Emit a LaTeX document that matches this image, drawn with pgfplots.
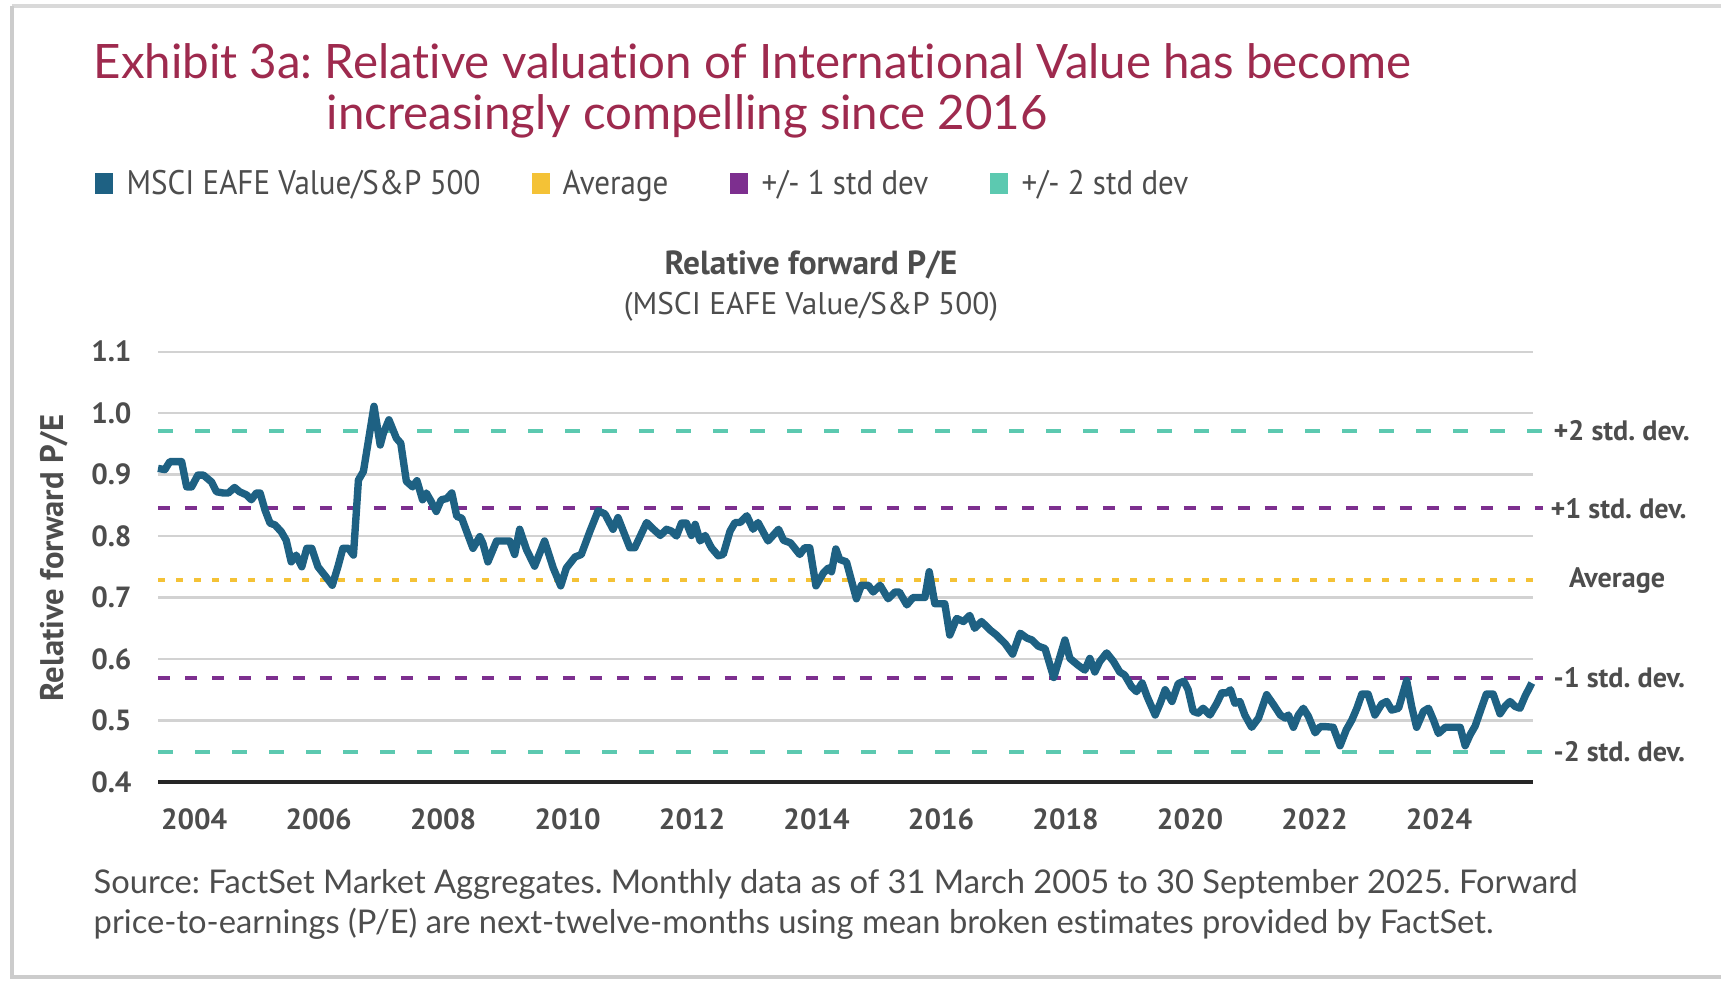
\documentclass[border=0pt]{standalone}
\usepackage{pgfplots}
\pgfplotsset{compat=1.18}
\usepackage{fontspec}
\setmainfont{Lato}
\newfontfamily\ptsans{PT Sans}
\newfontfamily\ptnarrow[FakeStretch=0.91]{PT Sans}
\newfontfamily\latofont[Ligatures=NoCommon]{Lato}

\definecolor{titlered}{HTML}{9E2A4E}
\definecolor{linecol}{HTML}{1E6183}
\definecolor{avgcol}{HTML}{F4C236}
\definecolor{sdonecol}{HTML}{7D2F8F}
\definecolor{sdtwocol}{HTML}{5CC9B0}
\definecolor{txtgray}{HTML}{4D4D4D}
\definecolor{gridgray}{HTML}{D2D2D2}

\begin{document}
\frenchspacing
\begin{tikzpicture}[x=1cm,y=1cm]
\useasboundingbox (0,0) rectangle (17.21,-9.80);
\fill[white] (0,0) rectangle (17.21,-9.80);
% screenshot frame
\draw[gray!30, line width=1pt] (0.12,-0.06) -- (17.21,-0.06);
\draw[gray!40, line width=1.2pt] (0.12,-0.06) -- (0.12,-9.77) -- (17.21,-9.77);

% title
\node[anchor=base west, inner sep=0, text=titlered, font=\latofont\fontsize{13.5}{16}\selectfont]
  at (0.93,-0.78) {Exhibit 3a: Relative valuation of International Value has become};
\node[anchor=base west, inner sep=0, text=titlered, font=\latofont\fontsize{13.5}{16}\selectfont]
  at (3.26,-1.29) {increasingly compelling since 2016};

% legend
\tikzset{legtxt/.style={anchor=base west, inner sep=0, text=txtgray, font=\ptnarrow\fontsize{9.7}{11}\selectfont}}
\fill[linecol]  (0.95,-1.73) rectangle (1.13,-1.94);
\node[legtxt] at (1.26,-1.94) {MSCI EAFE Value/S\&P 500};
\fill[avgcol]   (5.32,-1.73) rectangle (5.50,-1.94);
\node[legtxt] at (5.62,-1.94) {Average};
\fill[sdonecol] (7.30,-1.73) rectangle (7.48,-1.94);
\node[legtxt] at (7.61,-1.94) {+/- 1 std dev};
\fill[sdtwocol] (9.90,-1.73) rectangle (10.08,-1.94);
\node[legtxt] at (10.21,-1.94) {+/- 2 std dev};

% chart heading
\node[anchor=base, inner sep=0, text=txtgray, font=\ptsans\bfseries\fontsize{9.5}{11}\selectfont]
  at (8.11,-2.74) {Relative forward P/E};
\node[anchor=base, inner sep=0, text=txtgray, font=\ptsans\fontsize{8.9}{10}\selectfont]
  at (8.11,-3.14) {(MSCI EAFE Value/S\&P 500)};

% y label
\node[rotate=90, inner sep=0, text=txtgray, font=\ptsans\bfseries\fontsize{9.3}{11}\selectfont]
  at (0.54,-5.58) {Relative forward P/E};

\begin{axis}[
    at={(1.58cm,-7.82cm)}, anchor=south west,
    width=13.75cm, height=4.305cm, scale only axis,
    xmin=2003.42, xmax=2025.51,
    ymin=0.4, ymax=1.1,
    xtick={2004,2006,2008,2010,2012,2014,2016,2018,2020,2022,2024},
    ytick={0.4,0.5,0.6,0.7,0.8,0.9,1.0,1.1},
    /pgf/number format/assume math mode=true,
    xticklabel style={/pgf/number format/1000 sep={}, yshift=-4pt},
    yticklabel style={/pgf/number format/.cd, fixed, fixed zerofill, precision=1, /tikz/.cd, xshift=-4pt},
    tick label style={font=\ptsans\bfseries\fontsize{8.3}{10}\selectfont, text=txtgray},
    major tick length=0,
    ymajorgrids,
    major grid style={gridgray, line width=0.6pt},
    axis line style={draw=none},
    clip=false,
]
% reference lines
\addplot[sdtwocol, line width=1.2pt, dash pattern=on 0.15cm off 0.22cm] coordinates {(2003.42,0.971) (2025.67,0.971)};
\addplot[sdtwocol, line width=1.2pt, dash pattern=on 0.15cm off 0.22cm] coordinates {(2003.42,0.449) (2025.67,0.449)};
\addplot[sdonecol, line width=1.2pt, dash pattern=on 0.12cm off 0.15cm] coordinates {(2003.42,0.845) (2025.67,0.845)};
\addplot[sdonecol, line width=1.2pt, dash pattern=on 0.12cm off 0.15cm] coordinates {(2003.42,0.569) (2025.67,0.569)};
\addplot[avgcol, line width=1.2pt, dash pattern=on 0.07cm off 0.11cm] coordinates {(2003.42,0.728) (2025.67,0.728)};

\draw[black!85, line width=1.4pt] (axis cs:2003.42,0.4) -- (axis cs:2025.51,0.4);

% relative forward P/E
\addplot[linecol, line width=2.1pt, line join=round] coordinates {
(2003.42,0.910) (2003.53,0.908) (2003.61,0.921) (2003.80,0.921) (2003.88,0.880) (2003.96,0.880)
(2004.06,0.899) (2004.15,0.899) (2004.28,0.888) (2004.36,0.872) (2004.47,0.870) (2004.55,0.870)
(2004.65,0.879) (2004.73,0.872) (2004.84,0.867) (2004.92,0.859) (2005.00,0.870) (2005.06,0.870)
(2005.14,0.842) (2005.22,0.821) (2005.30,0.818) (2005.40,0.807) (2005.48,0.793) (2005.56,0.758)
(2005.64,0.769) (2005.73,0.750) (2005.81,0.780) (2005.89,0.780) (2005.99,0.750) (2006.10,0.736)
(2006.22,0.720) (2006.31,0.750) (2006.39,0.780) (2006.48,0.780) (2006.56,0.769) (2006.64,0.891)
(2006.72,0.905) (2006.89,1.011) (2006.99,0.948) (2007.04,0.967) (2007.13,0.989) (2007.25,0.959)
(2007.32,0.951) (2007.41,0.889) (2007.51,0.880) (2007.58,0.890) (2007.67,0.859) (2007.73,0.870)
(2007.81,0.856) (2007.89,0.840) (2007.97,0.859) (2008.06,0.861) (2008.14,0.870) (2008.22,0.832)
(2008.30,0.829) (2008.38,0.807) (2008.48,0.780) (2008.59,0.799) (2008.64,0.788) (2008.72,0.758)
(2008.86,0.792) (2009.07,0.792) (2009.15,0.770) (2009.23,0.811) (2009.34,0.778) (2009.47,0.751)
(2009.63,0.792) (2009.77,0.748) (2009.89,0.719) (2009.98,0.748) (2010.12,0.766) (2010.22,0.770)
(2010.36,0.808) (2010.49,0.841) (2010.60,0.836) (2010.73,0.811) (2010.81,0.830) (2011.00,0.781)
(2011.08,0.781) (2011.27,0.822) (2011.38,0.811) (2011.49,0.801) (2011.59,0.811) (2011.67,0.808)
(2011.75,0.800) (2011.83,0.821) (2011.91,0.821) (2011.99,0.801) (2012.05,0.819) (2012.13,0.792)
(2012.21,0.801) (2012.31,0.781) (2012.42,0.768) (2012.50,0.770) (2012.61,0.808) (2012.69,0.822)
(2012.77,0.822) (2012.88,0.833) (2012.98,0.811) (2013.06,0.822) (2013.22,0.792) (2013.39,0.811)
(2013.47,0.793) (2013.58,0.789) (2013.73,0.770) (2013.81,0.781) (2013.89,0.781) (2013.99,0.719)
(2014.11,0.740) (2014.19,0.748) (2014.24,0.742) (2014.31,0.779) (2014.37,0.762) (2014.48,0.758)
(2014.64,0.698) (2014.72,0.720) (2014.83,0.720) (2014.91,0.709) (2015.02,0.720) (2015.15,0.698)
(2015.26,0.709) (2015.33,0.709) (2015.45,0.688) (2015.55,0.700) (2015.74,0.700) (2015.81,0.742)
(2015.90,0.690) (2016.06,0.690) (2016.14,0.639) (2016.25,0.666) (2016.36,0.661) (2016.46,0.671)
(2016.54,0.650) (2016.65,0.661) (2016.79,0.647) (2016.89,0.639) (2017.03,0.625) (2017.15,0.608)
(2017.27,0.642) (2017.38,0.634) (2017.46,0.631) (2017.56,0.621) (2017.67,0.617) (2017.81,0.570)
(2017.91,0.604) (2017.99,0.631) (2018.07,0.601) (2018.20,0.590) (2018.31,0.582) (2018.39,0.601)
(2018.47,0.579) (2018.55,0.596) (2018.66,0.610) (2018.77,0.596) (2018.87,0.579) (2018.95,0.574)
(2019.06,0.555) (2019.14,0.547) (2019.23,0.561) (2019.31,0.539) (2019.44,0.509) (2019.52,0.528)
(2019.60,0.550) (2019.71,0.531) (2019.81,0.560) (2019.90,0.564) (2019.97,0.550) (2020.05,0.515)
(2020.13,0.512) (2020.21,0.520) (2020.32,0.509) (2020.43,0.528) (2020.51,0.545) (2020.59,0.545)
(2020.65,0.550) (2020.72,0.528) (2020.80,0.531) (2020.88,0.509) (2020.99,0.489) (2021.10,0.504)
(2021.23,0.542) (2021.34,0.526) (2021.45,0.509) (2021.53,0.504) (2021.58,0.509) (2021.66,0.489)
(2021.74,0.509) (2021.82,0.520) (2021.90,0.507) (2022.01,0.480) (2022.09,0.490) (2022.19,0.490)
(2022.30,0.489) (2022.41,0.459) (2022.51,0.485) (2022.60,0.501) (2022.68,0.520) (2022.76,0.543)
(2022.86,0.543) (2022.97,0.509) (2023.08,0.527) (2023.16,0.531) (2023.24,0.517) (2023.35,0.520)
(2023.48,0.565) (2023.56,0.523) (2023.64,0.489) (2023.75,0.515) (2023.83,0.520) (2023.91,0.501)
(2023.99,0.479) (2024.10,0.489) (2024.23,0.489) (2024.34,0.489) (2024.42,0.459) (2024.50,0.477)
(2024.58,0.491) (2024.69,0.523) (2024.76,0.543) (2024.87,0.543) (2024.98,0.511) (2025.06,0.523)
(2025.14,0.531) (2025.22,0.523) (2025.30,0.520) (2025.38,0.539) (2025.49,0.561)
};

% right-hand labels
\tikzset{rlab/.style={inner sep=0, text=txtgray, font=\ptsans\bfseries\fontsize{8}{9}\selectfont}}
\node[rlab, anchor=west] at (axis cs:2025.83,0.971) {+2 std. dev.};
\node[rlab, anchor=west] at (axis cs:2025.78,0.845) {+1 std. dev.};
\node[rlab, anchor=center] at (axis cs:2026.86,0.728) {Average};
\node[rlab, anchor=west] at (axis cs:2025.83,0.569) {-1 std. dev.};
\node[rlab, anchor=west] at (axis cs:2025.83,0.449) {-2 std. dev.};
\end{axis}

% source note
\node[anchor=base west, inner sep=0, text=txtgray, font=\latofont\fontsize{9.3}{11}\selectfont]
  at (0.93,-8.93) {Source: FactSet Market Aggregates. Monthly data as of 31 March 2005 to 30 September 2025. Forward};
\node[anchor=base west, inner sep=0, text=txtgray, font=\latofont\fontsize{9.3}{11}\selectfont]
  at (0.93,-9.33) {price-to-earnings (P/E) are next-twelve-months using mean broken estimates provided by FactSet.};
\end{tikzpicture}
\end{document}
